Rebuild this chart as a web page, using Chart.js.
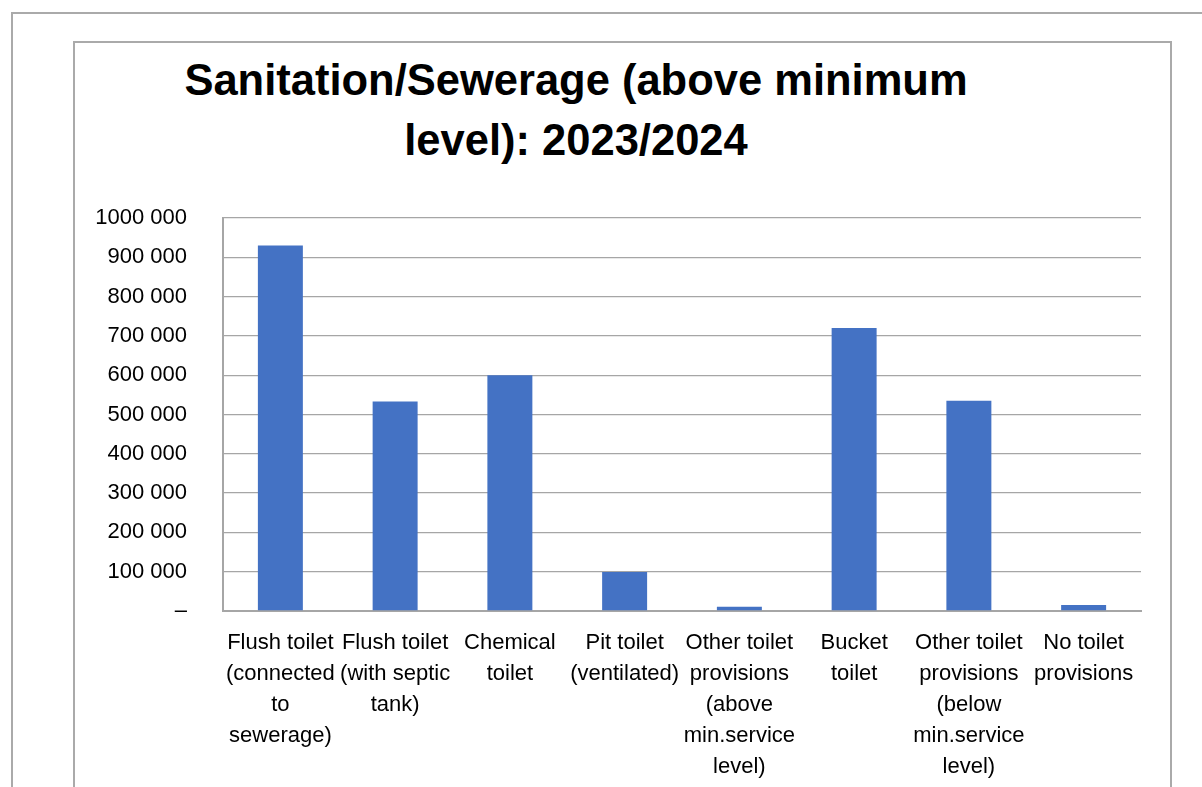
<!DOCTYPE html>
<html>
<head>
<meta charset="utf-8">
<script src="https://cdn.jsdelivr.net/npm/chart.js@4.4.1/dist/chart.umd.min.js"></script>
<style>
  html, body { margin: 0; padding: 0; background: #fff; }
  #wrap { position: relative; width: 1202px; height: 787px; overflow: hidden; }
  #outer { position: absolute; left: 11px; top: 12px; width: 1300px; height: 900px;
    border-left: 2px solid #aaaaaa; border-top: 2px solid #aaaaaa; }
  #inner { position: absolute; left: 73px; top: 41px; width: 1095px; height: 900px;
    border: 2px solid #aaaaaa; }
  #titulo { position: absolute; left: 176px; width: 800px; top: 50px; text-align: center;
    font-family: "Liberation Sans", Arial, sans-serif; font-weight: bold; font-size: 43.5px;
    line-height: 60px; color: #000; }
  #grafico { position: absolute; left: 0; top: 0; }
</style>
</head>
<body>
<div id="wrap">
  <div id="outer"></div>
  <div id="inner"></div>
  <div id="titulo">Sanitation/Sewerage (above minimum<br>level): 2023/2024</div>
  <canvas id="grafico" width="1202" height="787"></canvas>
</div>
<script>
const categorias = [
  ["Flush toilet", "(connected", "to", "sewerage)"],
  ["Flush toilet", "(with septic", "tank)"],
  ["Chemical", "toilet"],
  ["Pit toilet", "(ventilated)"],
  ["Other toilet", "provisions", "(above", "min.service", "level)"],
  ["Bucket", "toilet"],
  ["Other toilet", "provisions", "(below", "min.service", "level)"],
  ["No toilet", "provisions"],
];
const valores = [930000, 533000, 600000, 99500, 11000, 720000, 535000, 15000];
const etiquetasY = ["–", "100 000", "200 000", "300 000", "400 000", "500 000",
  "600 000", "700 000", "800 000", "900 000", "1000 000"];

const fuente = { family: '"Liberation Sans", Arial, sans-serif', size: 22 };
const colorGrid = "#a6a6a6";

const ctx = document.getElementById("grafico");

new Chart(ctx, {
  type: "bar",
  data: {
    labels: categorias,
    datasets: [
      {
        label: "Sanitation",
        data: valores,
        backgroundColor: "#4472C4",
        borderWidth: 0,
        barPercentage: 0.392,
        categoryPercentage: 1,
      },
    ],
  },
  options: {
    responsive: false,
    animation: false,
    layout: {
      padding: { left: 0, right: 61, top: 218, bottom: 0 },
    },
    plugins: {
      legend: { display: false },
      title: { display: false },
      tooltip: { enabled: false },
    },
    scales: {
      x: {
        grid: { display: false, drawTicks: false },
        border: { display: true, color: colorGrid, width: 2 },
        ticks: {
          color: "#000",
          font: { ...fuente, lineHeight: 1.4 },
          padding: 17,
          maxRotation: 0,
          autoSkip: false,
        },
        afterFit: (scale) => {
          scale.height = 176;
        },
      },
      y: {
        min: 0,
        max: 1000000,
        grid: { color: colorGrid, lineWidth: 1.3, drawTicks: false },
        border: { display: true, color: colorGrid, width: 2 },
        ticks: {
          stepSize: 100000,
          color: "#000",
          font: fuente,
          padding: 36,
          callback: (value, index) => etiquetasY[index],
        },
        afterFit: (scale) => {
          scale.width = 223;
        },
      },
    },
  },
});
</script>
</body>
</html>
